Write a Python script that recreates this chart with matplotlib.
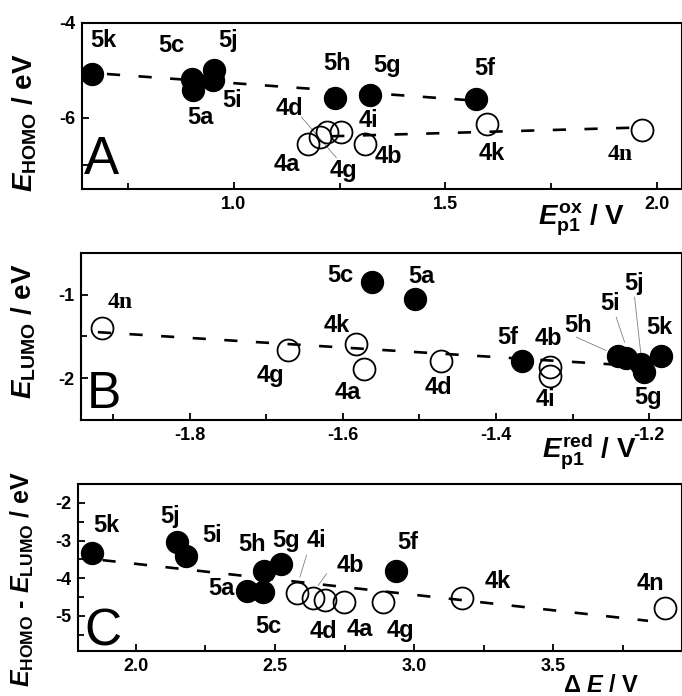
import matplotlib
matplotlib.use('Agg')
import matplotlib.pyplot as plt
from matplotlib.ticker import MultipleLocator

plt.rcParams['font.family'] = ['Liberation Sans', 'DejaVu Sans']
plt.rcParams['font.weight'] = 'bold'
plt.rcParams['axes.unicode_minus'] = False
plt.rcParams['mathtext.fontset'] = 'custom'
plt.rcParams['mathtext.rm'] = 'Liberation Sans:bold'
plt.rcParams['mathtext.it'] = 'Liberation Sans:italic:bold'
plt.rcParams['mathtext.bf'] = 'Liberation Sans:bold'

# --- Panel A: E_HOMO vs Ep1(ox) ---------------------------------------------
A5_names = ['5k', '5c', '5a', '5j', '5i', '5h', '5g', '5f']
A5_x = [0.664, 0.900, 0.904, 0.953, 0.950, 1.240, 1.322, 1.572]
A5_y = [-5.07, -5.18, -5.42, -4.99, -5.20, -5.58, -5.53, -5.60]
A5_lx = [0.692, 0.853, 0.920, 0.987, 0.995, 1.244, 1.362, 1.594]
A5_ly = [-4.37, -4.47, -6.00, -4.37, -5.64, -4.86, -4.90, -4.97]

A4_names = ['4a', '4d', '4g', '4i', '4b', '4k', '4n']
A4_x = [1.175, 1.203, 1.219, 1.252, 1.309, 1.598, 1.965]
A4_y = [-6.56, -6.41, -6.31, -6.31, -6.55, -6.13, -6.25]
A4_lx = [1.124, 1.132, 1.258, 1.317, 1.364, 1.610, 1.914]
A4_ly = [-6.98, -5.81, -7.10, -6.06, -6.82, -6.76, -6.78]

A_fit5_x = [0.70, 1.57]
A_fit5_y = [-5.08, -5.64]
A_fit4_x = [1.23, 1.94]
A_fit4_y = [-6.39, -6.21]
A_leaders = [((1.160, -5.99), (1.242, -6.84))]

# --- Panel B: E_LUMO vs Ep1(red) --------------------------------------------
B5_names = ['5c', '5a', '5f', '5h', '5i', '5j', '5g', '5k']
B5_x = [-1.562, -1.506, -1.366, -1.240, -1.230, -1.210, -1.206, -1.185]
B5_y = [-0.85, -1.05, -1.79, -1.73, -1.76, -1.83, -1.93, -1.73]
B5_lx = [-1.603, -1.497, -1.384, -1.293, -1.251, -1.219, -1.201, -1.186]
B5_ly = [-0.77, -0.79, -1.51, -1.37, -1.11, -0.87, -2.23, -1.39]

B4_names = ['4n', '4g', '4k', '4a', '4d', '4b', '4i']
B4_x = [-1.914, -1.672, -1.583, -1.572, -1.472, -1.330, -1.330]
B4_y = [-1.40, -1.66, -1.59, -1.89, -1.79, -1.87, -1.97]
B4_lx = [-1.891, -1.695, -1.608, -1.594, -1.475, -1.332, -1.335]
B4_ly = [-1.09, -1.97, -1.37, -2.17, -2.11, -1.53, -2.26]

B_fit_x = [-1.92, -1.24]
B_fit_y = [-1.45, -1.84]
B_leaders = [((-1.295, -1.51), (-1.256, -1.67)),
             ((-1.243, -1.27), (-1.232, -1.57)),
             ((-1.219, -1.03), (-1.210, -1.77))]

# --- Panel C: E_HOMO - E_LUMO vs delta E ------------------------------------
C5_names = ['5k', '5j', '5i', '5h', '5g', '5a', '5c', '5f']
C5_x = [1.843, 2.146, 2.180, 2.460, 2.520, 2.400, 2.455, 2.934]
C5_y = [-3.33, -3.04, -3.40, -3.80, -3.62, -4.35, -4.37, -3.80]
C5_lx = [1.895, 2.122, 2.272, 2.416, 2.541, 2.308, 2.475, 2.978]
C5_ly = [-2.60, -2.36, -2.87, -3.10, -3.00, -4.28, -5.29, -3.04]

C4_names = ['4i', '4b', '4d', '4a', '4g', '4k', '4n']
C4_x = [2.578, 2.638, 2.680, 2.749, 2.887, 3.170, 3.900]
C4_y = [-4.39, -4.53, -4.57, -4.63, -4.63, -4.52, -4.78]
C4_lx = [2.649, 2.769, 2.673, 2.805, 2.949, 3.300, 3.850]
C4_ly = [-3.00, -3.66, -5.42, -5.36, -5.38, -4.09, -4.13]

C_fit_x = [1.88, 3.84]
C_fit_y = [-3.52, -5.13]
C_leaders = [((2.613, -3.39), (2.589, -3.97)),
             ((2.685, -3.88), (2.655, -4.19))]

# --- Figure -----------------------------------------------------------------
fig = plt.figure(figsize=(6.82, 6.96), dpi=100)
axA = fig.add_axes([0.1202, 0.7284, 0.8798, 0.2390])
axB = fig.add_axes([0.1188, 0.3966, 0.8812, 0.2403])
axC = fig.add_axes([0.1148, 0.0647, 0.8852, 0.2399])

MS = 15.8
LBL = 17
AXLBL = 20


def style(ax, xlim, ylim, xmaj, xmin, ymaj, ymin):
    ax.set_xlim(*xlim)
    ax.set_ylim(*ylim)
    ax.xaxis.set_major_locator(MultipleLocator(xmaj))
    ax.xaxis.set_minor_locator(MultipleLocator(xmin))
    ax.yaxis.set_major_locator(MultipleLocator(ymaj))
    ax.yaxis.set_minor_locator(MultipleLocator(ymin))
    ax.tick_params(which='both', direction='in', top=False, right=False,
                   width=1.3, labelsize=13, pad=5)
    ax.tick_params(which='major', length=5)
    ax.tick_params(which='minor', length=4)
    for s in ax.spines.values():
        s.set_linewidth(1.5)
    for t in ax.get_xticklabels() + ax.get_yticklabels():
        t.set_fontweight('bold')


def draw(ax, x5, y5, n5, lx5, ly5, x4, y4, n4, lx4, ly4, serif_4n=False):
    ax.plot(x5, y5, 'o', ms=MS, mfc='black', mec='black', zorder=3)
    ax.plot(x4, y4, 'o', ms=MS, mfc='none', mec='black', mew=1.3, zorder=3)
    for n, x, y in zip(n5, lx5, ly5):
        ax.text(x, y, n, fontsize=LBL, fontweight='bold', ha='center', va='center')
    for n, x, y in zip(n4, lx4, ly4):
        fam = ['Liberation Serif', 'DejaVu Serif'] if (serif_4n and n == '4n') else None
        ax.text(x, y, n, fontsize=LBL, fontweight='bold', ha='center', va='center',
                family=fam)


def fit(ax, x, y):
    ax.plot(x, y, color='black', lw=1.9, linestyle=(0, (5, 7)), zorder=4)


def leaders(ax, segs):
    for (x0, y0), (x1, y1) in segs:
        ax.plot([x0, x1], [y0, y1], color='gray', lw=0.6, zorder=2)


# Panel A
style(axA, (0.641, 2.059), (-7.5, -4.0), 0.5, 0.25, 2, 1)
draw(axA, A5_x, A5_y, A5_names, A5_lx, A5_ly, A4_x, A4_y, A4_names, A4_lx, A4_ly, serif_4n=True)
fit(axA, A_fit5_x, A_fit5_y)
fit(axA, A_fit4_x, A_fit4_y)
leaders(axA, A_leaders)
axA.text(0.004, 0.09, 'A', transform=axA.transAxes, fontsize=38, fontweight='normal',
         ha='left', va='baseline')
axA.text(-0.095, 0.40, r'$E_{\mathrm{HOMO}}$ / eV', transform=axA.transAxes,
         rotation=90, fontsize=AXLBL, ha='center', va='center')
axA.text(0.905, -0.215, r'$E_{\mathrm{p1}}^{\mathrm{ox}}$ / V', transform=axA.transAxes,
         fontsize=AXLBL, ha='right', va='baseline')

# Panel B
style(axB, (-1.942, -1.157), (-2.5, -0.5), 0.2, 0.1, 1, 0.5)
draw(axB, B5_x, B5_y, B5_names, B5_lx, B5_ly, B4_x, B4_y, B4_names, B4_lx, B4_ly, serif_4n=True)
fit(axB, B_fit_x, B_fit_y)
leaders(axB, B_leaders)
axB.text(0.010, 0.07, 'B', transform=axB.transAxes, fontsize=37, fontweight='normal',
         ha='left', va='baseline')
axB.text(-0.095, 0.53, r'$E_{\mathrm{LUMO}}$ / eV', transform=axB.transAxes,
         rotation=90, fontsize=AXLBL, ha='center', va='center')
axB.text(0.925, -0.225, r'$E_{\mathrm{p1}}^{\mathrm{red}}$ / V', transform=axB.transAxes,
         fontsize=AXLBL, ha='right', va='baseline')

# Panel C
style(axC, (1.793, 3.962), (-5.93, -1.5), 0.5, 0.25, 1, 0.5)
draw(axC, C5_x, C5_y, C5_names, C5_lx, C5_ly, C4_x, C4_y, C4_names, C4_lx, C4_ly)
fit(axC, C_fit_x, C_fit_y)
leaders(axC, C_leaders)
axC.text(0.010, 0.03, 'C', transform=axC.transAxes, fontsize=37, fontweight='normal',
         ha='left', va='baseline')
axC.text(-0.092, 0.43, r'$E_{\mathrm{HOMO}}$ - $E_{\mathrm{LUMO}}$ / eV', transform=axC.transAxes,
         rotation=90, fontsize=18, ha='center', va='center')
axC.text(0.93, -0.243, r'$\Delta$ $E$ / V', transform=axC.transAxes,
         fontsize=17, ha='right', va='baseline')

fig.savefig('out.png', dpi=100)
